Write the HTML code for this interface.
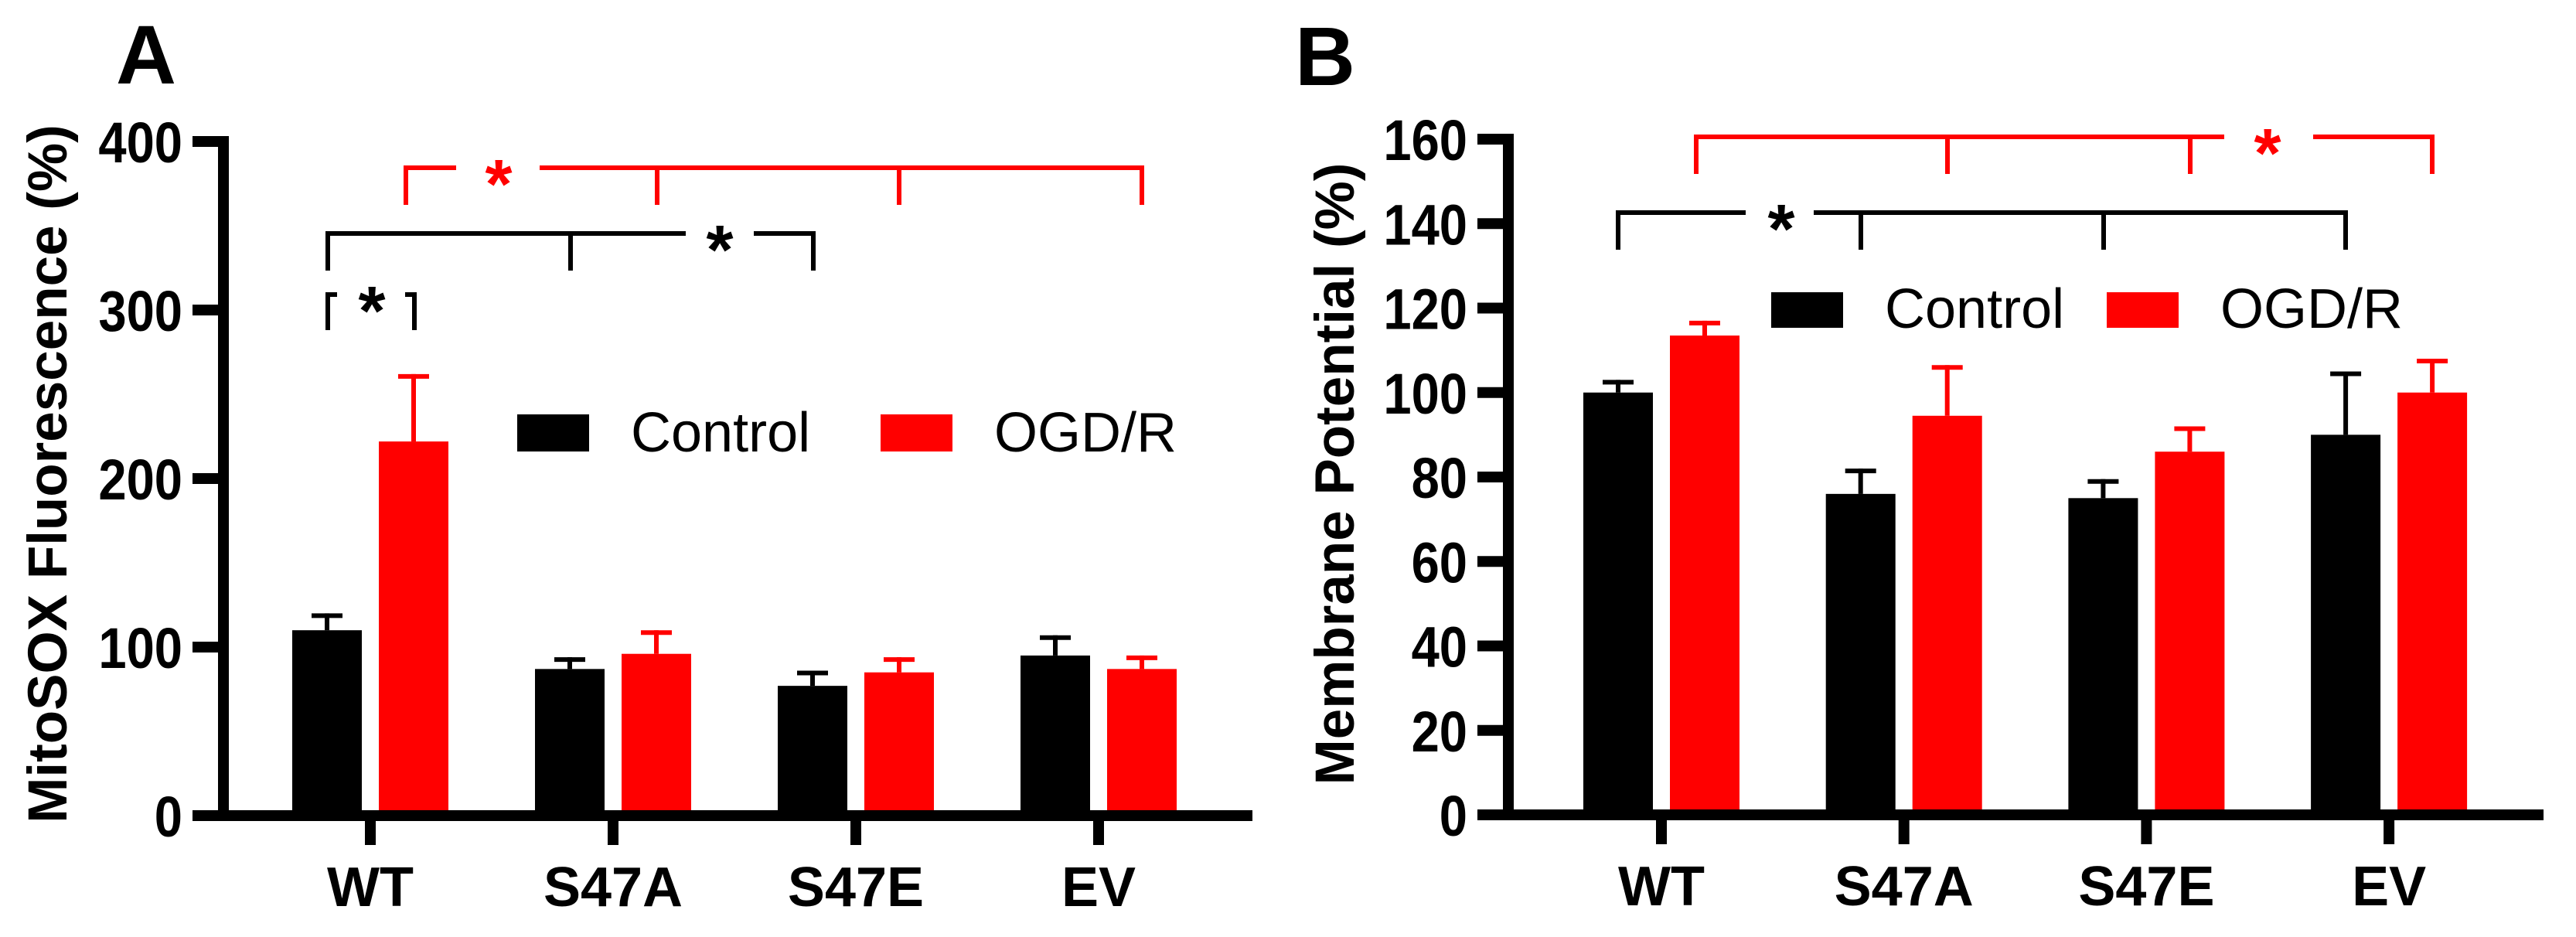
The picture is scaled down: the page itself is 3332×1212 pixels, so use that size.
<!DOCTYPE html>
<html><head><meta charset="utf-8">
<style>
html,body{margin:0;padding:0;background:#fff;}
svg{display:block;}
text{font-family:"Liberation Sans",Arial,sans-serif;}
</style></head>
<body>
<svg id="fig" width="3332" height="1212" viewBox="0 0 3332 1212" xmlns="http://www.w3.org/2000/svg">
  <text x="189" y="108" font-size="108" font-weight="bold" text-anchor="middle">A</text>
  <text x="1714" y="110" font-size="108" font-weight="bold" text-anchor="middle">B</text>
  <text transform="translate(86,613) rotate(-90)" font-size="71" font-weight="bold" text-anchor="middle">MitoSOX Fluorescence (%)</text>
  <text transform="translate(1751,613) rotate(-90)" font-size="71" font-weight="bold" text-anchor="middle">Membrane Potential (%)</text>
  <g id="panelA"></g>
  <g id="panelB"></g>
</svg>
<script>
const categories = ["WT", "S47A", "S47E", "EV"];
const seriesNames = ["Control", "OGD/R"];
const aControl = [110, 87, 77, 95];
const aControlErr = [10, 7, 9, 12];
const aOgd = [222, 96, 85, 87];
const aOgdErr = [40, 14, 9, 8];
const aTicks = [0, 100, 200, 300, 400];
const bControl = [100, 76, 75, 90];
const bControlErr = [3, 6, 4.5, 15];
const bOgd = [113.5, 94.5, 86, 100];
const bOgdErr = [3.5, 12, 6, 8];
const bTicks = [0, 20, 40, 60, 80, 100, 120, 140, 160];

const NS = "http://www.w3.org/2000/svg";
function mk(parent, tag, attrs) {
  const el = document.createElementNS(NS, tag);
  for (const k in attrs) el.setAttribute(k, attrs[k]);
  parent.appendChild(el);
  return el;
}

function drawPanel(g, cfg) {
  const y = v => cfg.y0 - (v - cfg.ymin) / (cfg.ymax - cfg.ymin) * (cfg.y0 - cfg.yTop);
  const x = i => cfg.cat0 + i * cfg.catStep;
  const bw = 90, off = 56;
  for (let i = 0; i < categories.length; i++) {
    const series = [[cfg.ctrl, cfg.ctrlErr, "#000", -off], [cfg.ogd, cfg.ogdErr, "#ff0000", off]];
    series.forEach((s, si) => {
      const cx = x(i) + s[3];
      const top = y(s[0][i]);
      const etop = y(s[0][i] + s[1][i]);
      const eb = mk(g, "line", {x1: cx, x2: cx, y1: top, y2: etop, stroke: s[2], "stroke-width": 6});
      
      
      const cap = mk(g, "line", {x1: cx - 20, x2: cx + 20, y1: etop + 3, y2: etop + 3, stroke: s[2], "stroke-width": 6});
      
      
      const r = mk(g, "rect", {x: cx - bw / 2, y: top, width: bw, height: cfg.y0 - top, fill: s[2]});
      
      
    });
  }
  const ya = mk(g, "line", {x1: cfg.ax, x2: cfg.ax, y1: cfg.yTop - 7, y2: cfg.y0 + 7, stroke: "#000", "stroke-width": 14});
  
  
  const xa = mk(g, "line", {x1: cfg.ax - 40, x2: cfg.axEnd, y1: cfg.y0, y2: cfg.y0, stroke: "#000", "stroke-width": 14});
  
  
  cfg.ticks.forEach(t => {
    const ty = y(t);
    const tl = mk(g, "line", {x1: cfg.ax - 40, x2: cfg.ax, y1: ty, y2: ty, stroke: "#000", "stroke-width": 14});
    
    
    const tx = mk(g, "text", {transform: "translate(" + (cfg.ax - 53) + "," + (ty + 27) + ") scale(0.88,1)", "font-size": 74, "font-weight": "bold", "text-anchor": "end"});
    tx.textContent = t;
    
    
  });
  categories.forEach((c, i) => {
    const tl = mk(g, "line", {x1: x(i), x2: x(i), y1: cfg.y0, y2: cfg.y0 + 38, stroke: "#000", "stroke-width": 14});
    
    
    const tx = mk(g, "text", {x: x(i), y: cfg.y0 + 117, "font-size": 72, "font-weight": "bold", "text-anchor": "middle"});
    tx.textContent = c;
    
    
  });
  const L = cfg.legend;
  [["#000", L.r1, "Control"], ["#ff0000", L.r2, "OGD/R"]].forEach((e, k) => {
    const r = mk(g, "rect", {x: e[1], y: L.top, width: 93, height: L.h, fill: e[0]});
    
    
    const t = mk(g, "text", {x: e[1] + 147, y: L.top + L.h, "font-size": 72});
    t.textContent = e[2];
    
    
  });
  cfg.brackets.forEach((b, bi) => {
    const parts = [[b.xs[0], b.gap[0]], [b.gap[1], b.xs[b.xs.length - 1]]];
    parts.forEach(p => {
      const l = mk(g, "line", {x1: p[0], x2: p[1], y1: b.y, y2: b.y, stroke: b.color, "stroke-width": 6});
      
      
    });
    b.xs.forEach(xx => {
      const d = mk(g, "line", {x1: xx, x2: xx, y1: b.y - 3, y2: b.drop, stroke: b.color, "stroke-width": 6});
      
      
    });
    const s = mk(g, "text", {x: b.star, y: b.y + 52, "font-size": 90, "font-weight": "bold", fill: b.color, "text-anchor": "middle"});
    s.textContent = "*";
    
    
  });
}

drawPanel(document.getElementById("panelA"), {
  ax: 289, axEnd: 1620, y0: 1055, yTop: 183, ymin: 0, ymax: 400,
  cat0: 479, catStep: 314, ticks: aTicks,
  ctrl: aControl, ctrlErr: aControlErr, ogd: aOgd, ogdErr: aOgdErr,
  legend: {top: 536, h: 48, r1: 669, r2: 1139},
  brackets: [
    {color: "#ff0000", y: 217, drop: 265, xs: [525, 850, 1163, 1477], gap: [590, 698], star: 645},
    {color: "#000", y: 302, drop: 350, xs: [424, 738, 1052], gap: [887, 975], star: 931},
    {color: "#000", y: 381, drop: 427, xs: [424, 536], gap: [436, 524], star: 481}
  ]
});
drawPanel(document.getElementById("panelB"), {
  ax: 1951, axEnd: 3290, y0: 1054, yTop: 180, ymin: 0, ymax: 160,
  cat0: 2149, catStep: 313.7, ticks: bTicks,
  ctrl: bControl, ctrlErr: bControlErr, ogd: bOgd, ogdErr: bOgdErr,
  legend: {top: 378, h: 46, r1: 2291, r2: 2725},
  brackets: [
    {color: "#ff0000", y: 177, drop: 225, xs: [2194, 2519, 2833, 3146], gap: [2877, 2992], star: 2933},
    {color: "#000", y: 275, drop: 323, xs: [2093, 2407, 2721, 3034], gap: [2258, 2346], star: 2304}
  ]
});
</script>
</body></html>
